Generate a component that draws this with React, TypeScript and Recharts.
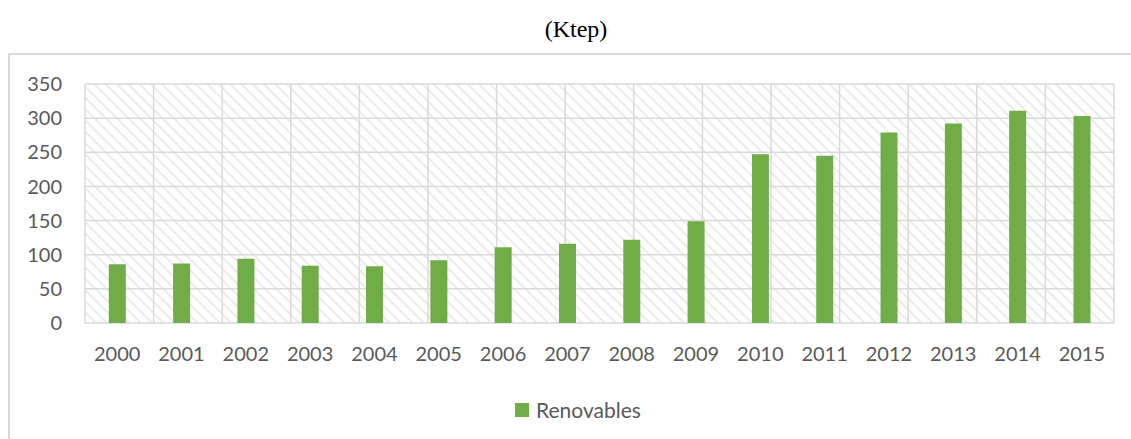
import React from 'react';
import { BarChart, Bar, XAxis, YAxis, CartesianGrid } from 'recharts';

// Données : consommation renouvelable (Ktep)
const years = ['2000', '2001', '2002', '2003', '2004', '2005', '2006', '2007', '2008', '2009', '2010', '2011', '2012', '2013', '2014', '2015'];
const renovables = [86, 87, 94, 84, 83, 92, 111, 116, 122, 149, 247, 245, 279, 292, 311, 303];
const yTicks = [0, 50, 100, 150, 200, 250, 300, 350];

const data = years.map((year, i) => ({ year, renovables: renovables[i] }));
const gridTicks = years.map((_, i) => i).concat(years.length);

const GREEN = '#70AD47';
const GRID = '#d9d9d9';
const TEXT = '#595959';
const FONT = 'Lato, "Open Sans", sans-serif';

const tickStyle = { fill: TEXT, fontSize: 20, fontFamily: FONT };

export default function App() {
  return (
    <div style={{ position: 'absolute', left: 0, top: 0, width: 1131, height: 439, background: '#fff', overflow: 'hidden' }}>
      {/* Titre */}
      <div
        style={{
          position: 'absolute',
          left: 476,
          top: 17,
          width: 200,
          textAlign: 'center',
          fontFamily: '"Liberation Serif", "Times New Roman", serif',
          fontSize: 24,
          lineHeight: '24px',
          color: '#000',
        }}
      >
        (Ktep)
      </div>

      {/* Cadre du graphique */}
      <div
        style={{
          position: 'absolute',
          left: 8,
          top: 53,
          width: 1200,
          height: 500,
          borderLeft: `2px solid ${GRID}`,
          borderTop: `2px solid ${GRID}`,
        }}
      />

      <div style={{ position: 'absolute', left: 0, top: 0 }}>
        <BarChart
          width={1131}
          height={439}
          data={data}
          margin={{ top: 84, right: 17, left: 30, bottom: 86 }}
          barCategoryGap="37%"
        >
          <defs>
            <pattern id="hatch" width="8" height="8" patternUnits="userSpaceOnUse" patternTransform="rotate(45)">
              <rect width="8" height="8" fill="#ffffff" />
              <line x1="0" y1="0" x2="8" y2="0" stroke="#e6e6e6" strokeWidth={3} />
            </pattern>
          </defs>
          <CartesianGrid
            xAxisId="grid"
            stroke={GRID}
            strokeWidth={1.5}
            fill="url(#hatch)"
            fillOpacity={1}
          />
          <XAxis
            xAxisId="grid"
            type="number"
            domain={[0, years.length]}
            ticks={gridTicks}
            hide
          />
          <XAxis
            dataKey="year"
            axisLine={false}
            tickLine={false}
            tickSize={0}
            tickMargin={24}
            height={30}
            tick={tickStyle}
            interval={0}
          />
          <YAxis
            domain={[0, 350]}
            ticks={yTicks}
            axisLine={false}
            tickLine={false}
            tickSize={0}
            tickMargin={23}
            width={55}
            tick={tickStyle}
          />
          <Bar dataKey="renovables" fill={GREEN} isAnimationActive={false} />
        </BarChart>
      </div>

      {/* Légende */}
      <div
        style={{
          position: 'absolute',
          left: 515,
          top: 397,
          display: 'flex',
          alignItems: 'center',
          gap: 7,
          fontFamily: FONT,
          fontSize: 21,
          color: TEXT,
        }}
      >
        <div style={{ width: 14, height: 14, background: GREEN }} />
        <span>Renovables</span>
      </div>
    </div>
  );
}
